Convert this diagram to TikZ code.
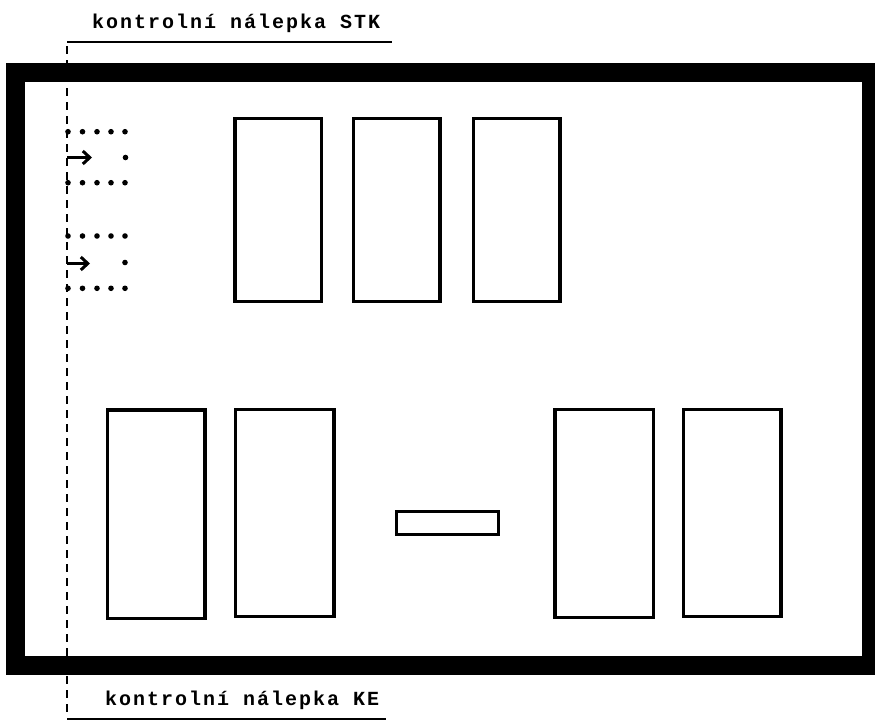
\documentclass[tikz,border=0pt]{standalone}
\usepackage{fontspec}
\newfontfamily\plotfont[LetterSpace=10]{Liberation Mono}
\usetikzlibrary{arrows.meta}
\tikzset{
  frameline/.style={line width=19pt},
  boxline/.style={line width=3.2pt},
  lbl/.style={font=\plotfont\fontsize{20}{22}\selectfont\bfseries, inner sep=0pt, anchor=base west},
  uline/.style={line width=2.4pt},
  guide/.style={line width=1.3pt, dash pattern=on 8pt off 6pt},
  pt/.style={fill=black},
  arr/.style={line width=3pt, -{Straight Barb[length=7pt,width=13pt]}},
}
\begin{document}
\begin{tikzpicture}[x=1pt,y=-1pt]
\useasboundingbox (0,0) rectangle (875,720);
% labels
\node[lbl] (stk) at (92,28) {kontrolní nálepka STK};
\node[lbl] (ke) at (105,705) {kontrolní nálepka KE};
\coordinate (u1a) at (67,42); \coordinate (u1b) at (392,42);
\coordinate (u2a) at (67,719); \coordinate (u2b) at (386,719);
\draw[uline] (u1a) -- (u1b);
\draw[uline] (u2a) -- (u2b);
% guide line
\coordinate (g1) at (67,46); \coordinate (g2) at (67,712);
\draw[guide] (g1) -- (g2);
% frame
\draw[frameline] (15.5,72.5) rectangle (871.5,665.5);
% upper boxes
\draw[boxline] (235,118.5) rectangle (321.7,301.7);
\draw[boxline] (353.3,118.5) rectangle (440,301.7);
\draw[boxline] (473.3,118.5) rectangle (560,301.7);
% lower boxes
\draw[boxline] (107.7,410) rectangle (205,618.3);
\draw[boxline] (235.7,409.4) rectangle (334,616.5);
\draw[boxline] (555,409.7) rectangle (653.3,617.3);
\draw[boxline] (683.4,409.4) rectangle (781,616.3);
\draw[boxline] (396.7,511.7) rectangle (498.3,534.3);
% sticker markers
\foreach \y in {131.7,182.7,236,288.3}{
  \foreach \x in {68,82.5,97,111,125}{
    \fill[pt] (\x,\y) circle (2.8);
  }
}
\fill[pt] (125.5,157.5) circle (2.8);
\fill[pt] (125,262.5) circle (2.8);
\coordinate (a1s) at (67,157.5); \coordinate (a1e) at (92,157.5);
\coordinate (a2s) at (67,263.5); \coordinate (a2e) at (90,263.5);
\draw[arr] (a1s) -- (a1e);
\draw[arr] (a2s) -- (a2e);
\end{tikzpicture}
\end{document}
